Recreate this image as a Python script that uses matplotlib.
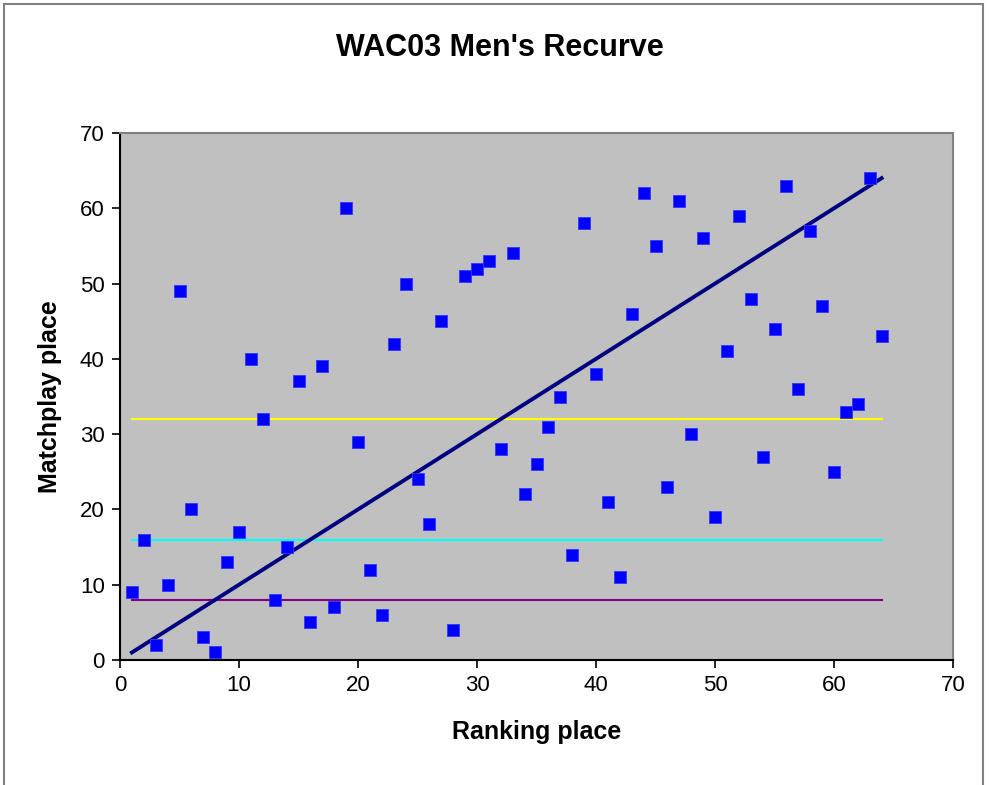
import matplotlib
matplotlib.use("Agg")
import matplotlib.pyplot as plt
from matplotlib.patches import Rectangle

plt.rcParams["font.family"] = ["Liberation Sans", "DejaVu Sans"]

# ranking place vs matchplay place, WAC03 men's recurve
ranking = list(range(1, 65))
matchplay = [9, 16, 2, 10, 49, 20, 3, 1, 13, 17, 40, 32, 8, 15, 37, 5,
             39, 7, 60, 29, 12, 6, 42, 50, 24, 18, 45, 4, 51, 52, 53, 28,
             54, 22, 26, 31, 35, 14, 58, 38, 21, 11, 46, 62, 55, 23, 61, 30,
             56, 19, 41, 59, 48, 27, 44, 63, 36, 57, 47, 25, 33, 34, 64, 43]
# reference lines: rank == place, and the cut levels
diag = ranking
cut_levels = [32, 16, 8]
cut_colors = ["#FFFF00", "#00FFFF", "#800080"]

fig = plt.figure(figsize=(9.89, 7.85), dpi=100)
ax = fig.add_axes([120 / 989, 1 - 660 / 785, 833 / 989, 527 / 785])
ax.set_facecolor("#C0C0C0")

for lvl, col in zip(cut_levels, cut_colors):
    ax.plot([ranking[0], ranking[-1]], [lvl, lvl], color=col, lw=1.5, zorder=2)
ax.plot(ranking, diag, color="#000080", lw=2.8, zorder=3)
ax.plot(ranking, matchplay, "s", color="#0000FF", ms=8, mec="#3333FF", mew=0.6,
        ls="none", zorder=4)

ax.set_xlim(0, 70)
ax.set_ylim(0, 70)
ax.set_xticks(range(0, 71, 10))
ax.set_yticks(range(0, 71, 10))
ax.tick_params(direction="out", length=6, width=1.2, labelsize=16, pad=5)
for side in ("top", "right"):
    ax.spines[side].set_color("#808080")
    ax.spines[side].set_linewidth(1.5)
for side in ("left", "bottom"):
    ax.spines[side].set_color("black")
    ax.spines[side].set_linewidth(1.5)

ax.set_xlabel("Ranking place", fontsize=18, fontweight="bold", labelpad=17)
ax.set_ylabel("Matchplay place", fontsize=18, fontweight="bold", labelpad=13)
fig.text(0.505, 1 - 48 / 785, "WAC03 Men's Recurve", ha="center", va="center",
         fontsize=22, fontweight="bold")

# outer chart border
fig.patches.append(Rectangle((4 / 989, -0.01), 979 / 989, 1 - 4 / 785 + 0.01,
                             transform=fig.transFigure, fill=False,
                             edgecolor="#808080", lw=1.5))

fig.savefig("out.png", dpi=100)
